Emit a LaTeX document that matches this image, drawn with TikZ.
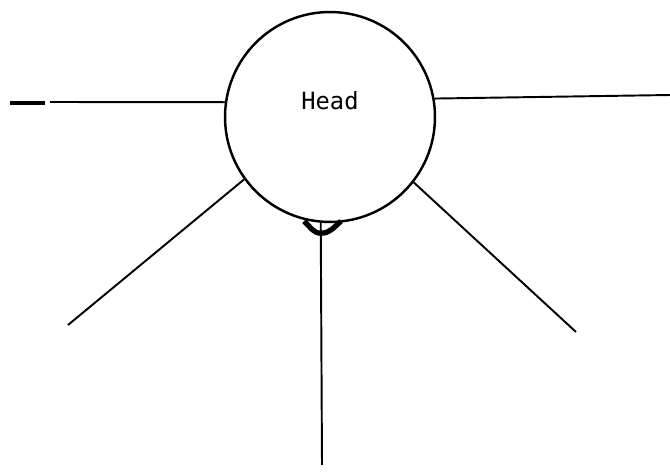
\documentclass[tikz,border=0pt]{standalone}
\usepackage{fontspec}
\newfontfamily\headfont{DejaVu Sans Mono}
\usetikzlibrary{calc}

\begin{document}
\begin{tikzpicture}[x=0.02cm, y=-0.02cm,
    head/.style={circle, draw, line width=1.4pt, minimum size=4.2cm, inner sep=0pt},
    limb/.style={line width=1.1pt},
    knot/.style={line width=3pt, line join=round}
]
\useasboundingbox (0,0) rectangle (670,476);

\node[head, label={[font=\headfont\fontsize{13.5}{15}\selectfont, yshift=0.32cm]center:Head}] (hd) at (330,117) {};

\coordinate (tip)  at (10,103);
\coordinate (tipe) at (45,103);
\coordinate (lt)   at (50,102);
\coordinate (rt)   at (670,95);
\coordinate (ll)   at (68,325);
\coordinate (lr)   at (576,332);
\coordinate (bt)   at (322,465);

\draw[line width=2pt] (tip) -- (tipe);
\draw[limb] (hd.172) -- (lt);
\draw[limb] (hd.10)  -- (rt);
\draw[limb] (hd.216) -- (ll);
\draw[limb] (hd.322) -- (lr);
\draw[limb] (hd.265) -- (bt);

% junction under the head
\draw[knot] ($(hd.south)+(-26,-2)$) to[out=-40, in=180] ($(hd.south)+(-9,10)$) to[out=0, in=-140] ($(hd.south)+(11,-2)$);
\end{tikzpicture}
\end{document}
